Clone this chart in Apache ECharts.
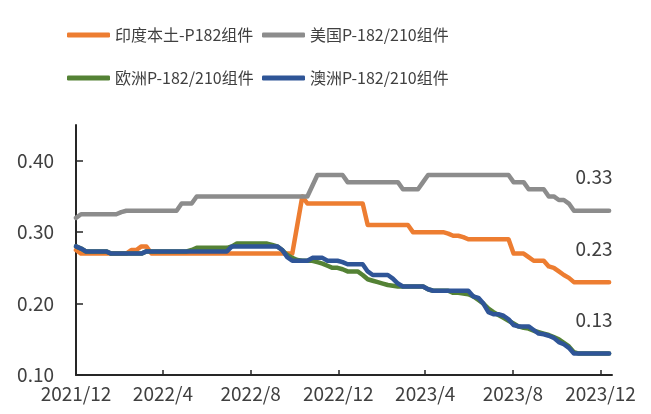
<!DOCTYPE html>
<html>
<head>
<meta charset="utf-8">
<script src="https://cdn.jsdelivr.net/npm/echarts@6/dist/echarts.min.js"></script>
<style>
  html, body { margin: 0; padding: 0; background: #fff; }
  #main { width: 651px; height: 414px; }
</style>
</head>
<body>
<div id="main"></div>
<script>
// weekly prices, USD/W, first week 2021/12/1
var startDate = Date.UTC(2021, 11, 1);
var names = ['印度本土-P182组件', '美国P-182/210组件', '欧洲P-182/210组件', '澳洲P-182/210组件'];
var colors = ['#ED7D31', '#8C8C8C', '#548235', '#2F5597'];
var tickDates = ['2021-12-01', '2022-04-01', '2022-08-01', '2022-12-01', '2023-04-01', '2023-08-01', '2023-12-01'];
var yTicks = [0.1, 0.2, 0.3, 0.4];

var india = [
  0.275,
  0.27, 0.27, 0.27, 0.27, 0.27, 0.27, 0.27, 0.27, 0.27, 0.27,
  0.275, 0.275, 0.28, 0.28,
  0.27, 0.27, 0.27, 0.27, 0.27, 0.27, 0.27, 0.27, 0.27, 0.27,
  0.27, 0.27, 0.27, 0.27, 0.27, 0.27, 0.27, 0.27, 0.27, 0.27,
  0.27, 0.27, 0.27, 0.27, 0.27, 0.27, 0.27, 0.27, 0.27,
  0.31, 0.35,
  0.34, 0.34, 0.34, 0.34, 0.34, 0.34, 0.34, 0.34, 0.34, 0.34, 0.34, 0.34,
  0.31, 0.31, 0.31, 0.31, 0.31, 0.31, 0.31, 0.31, 0.31,
  0.30, 0.30, 0.30, 0.30, 0.30, 0.30, 0.30,
  0.298, 0.295, 0.295, 0.293,
  0.29, 0.29, 0.29, 0.29, 0.29, 0.29, 0.29, 0.29, 0.29,
  0.27, 0.27, 0.27,
  0.265, 0.26, 0.26, 0.26, 0.252, 0.25, 0.245, 0.24, 0.236,
  0.23, 0.23, 0.23, 0.23, 0.23, 0.23, 0.23, 0.23
];
var usa = [
  0.32,
  0.325, 0.325, 0.325, 0.325, 0.325, 0.325, 0.325, 0.325,
  0.328,
  0.33, 0.33, 0.33, 0.33, 0.33, 0.33, 0.33, 0.33, 0.33, 0.33, 0.33,
  0.34, 0.34, 0.34,
  0.35, 0.35, 0.35, 0.35, 0.35, 0.35, 0.35, 0.35, 0.35, 0.35,
  0.35, 0.35, 0.35, 0.35, 0.35, 0.35, 0.35, 0.35, 0.35, 0.35,
  0.35, 0.35, 0.35,
  0.365,
  0.38, 0.38, 0.38, 0.38, 0.38, 0.38,
  0.37, 0.37, 0.37, 0.37, 0.37, 0.37, 0.37, 0.37, 0.37, 0.37, 0.37,
  0.36, 0.36, 0.36, 0.36,
  0.37,
  0.38, 0.38, 0.38, 0.38, 0.38, 0.38, 0.38, 0.38, 0.38, 0.38,
  0.38, 0.38, 0.38, 0.38, 0.38, 0.38, 0.38,
  0.37, 0.37, 0.37,
  0.36, 0.36, 0.36, 0.36,
  0.35, 0.35,
  0.345, 0.345,
  0.34,
  0.33, 0.33, 0.33, 0.33, 0.33, 0.33, 0.33, 0.33
];
var europe = [
  0.28, 0.277,
  0.273, 0.273, 0.273, 0.273, 0.273,
  0.27, 0.27, 0.27, 0.27, 0.27, 0.27, 0.27,
  0.273, 0.273, 0.273, 0.273, 0.273, 0.273, 0.273, 0.273, 0.273,
  0.275,
  0.278, 0.278, 0.278, 0.278, 0.278, 0.278, 0.278,
  0.28,
  0.284, 0.284, 0.284, 0.284, 0.284, 0.284, 0.284,
  0.282, 0.28, 0.275, 0.268, 0.264, 0.261,
  0.26, 0.26, 0.26,
  0.258, 0.256, 0.253, 0.25, 0.25, 0.248,
  0.245, 0.245, 0.245,
  0.24, 0.234, 0.232, 0.23, 0.228, 0.226, 0.225,
  0.224, 0.224, 0.224, 0.224, 0.224, 0.224,
  0.22,
  0.218, 0.218, 0.218, 0.218,
  0.215, 0.215, 0.214, 0.213, 0.21, 0.205, 0.2, 0.193, 0.188, 0.184,
  0.18, 0.176, 0.172, 0.168, 0.166, 0.165, 0.162, 0.16, 0.158, 0.156,
  0.153, 0.15, 0.145, 0.14, 0.132,
  0.13, 0.13, 0.13, 0.13, 0.13, 0.13, 0.13
];
var australia = [
  0.28, 0.277,
  0.273, 0.273, 0.273, 0.273, 0.273,
  0.27, 0.27, 0.27, 0.27, 0.27, 0.27, 0.27,
  0.273, 0.273, 0.273, 0.273, 0.273, 0.273, 0.273, 0.273, 0.273,
  0.273, 0.273, 0.273, 0.273, 0.273, 0.273, 0.273, 0.273,
  0.28, 0.28, 0.28, 0.28, 0.28, 0.28, 0.28, 0.28, 0.28, 0.28,
  0.275, 0.265,
  0.26, 0.26, 0.26, 0.26,
  0.264, 0.264, 0.264,
  0.26, 0.26, 0.26,
  0.258,
  0.255, 0.255, 0.255, 0.255,
  0.245,
  0.24, 0.24, 0.24, 0.24,
  0.235, 0.228,
  0.224, 0.224, 0.224, 0.224, 0.224,
  0.22,
  0.218, 0.218, 0.218, 0.218, 0.218, 0.218, 0.218, 0.218,
  0.21, 0.208, 0.2, 0.188, 0.185, 0.185, 0.183, 0.178, 0.17,
  0.168, 0.168, 0.168,
  0.163, 0.158, 0.157, 0.155, 0.152, 0.146, 0.143, 0.138,
  0.13, 0.13, 0.13, 0.13, 0.13, 0.13, 0.13, 0.13
];

var labelIndex = 103;

function pairs(values) {
  var out = [];
  for (var i = 0; i < values.length; i++) {
    out.push([startDate + i * 7 * 86400000, values[i]]);
  }
  return out;
}

function endMark(values) {
  var last = values[values.length - 1];
  return {
    symbol: 'circle',
    symbolSize: 0,
    silent: true,
    label: {
      show: true,
      position: 'top',
      distance: 24,
      color: '#404040',
      fontSize: 19,
      fontFamily: 'Noto Sans CJK SC',
      formatter: last.toFixed(2)
    },
    data: [{ coord: [startDate + labelIndex * 7 * 86400000, last] }]
  };
}

var chart = echarts.init(document.getElementById('main'));
var allValues = [india, usa, europe, australia];
var series = [];
for (var s = 0; s < names.length; s++) {
  var item = {
    name: names[s],
    type: 'line',
    data: pairs(allValues[s]),
    showSymbol: false,
    symbol: 'none',
    color: colors[s],
    lineStyle: { width: 4.5, color: colors[s], cap: 'round', join: 'round' },
    animation: false
  };
  if (s !== 2) item.markPoint = endMark(allValues[s]);
  series.push(item);
}

var legendPos = [[62, 22], [257, 22], [62, 65], [257, 65]];
var legends = [];
for (var l = 0; l < names.length; l++) {
  legends.push({
    data: [names[l]],
    left: legendPos[l][0],
    top: legendPos[l][1],
    icon: 'roundRect',
    itemWidth: 43,
    itemHeight: 5,
    textStyle: { fontSize: 16, color: '#404040', fontFamily: 'Noto Sans CJK SC' }
  });
}

var option = {
  backgroundColor: '#fff',
  legend: legends,
  grid: { left: 76, right: 39, top: 125, bottom: 39, containLabel: false },
  xAxis: {
    type: 'time',
    min: Date.UTC(2021, 11, 1),
    max: Date.UTC(2023, 11, 17),
    splitLine: { show: false },
    axisLine: { lineStyle: { color: '#262626', width: 2 } },
    axisTick: {
      inside: true,
      length: 5,
      lineStyle: { color: '#262626', width: 1.5 },
      customValues: tickDates
    },
    axisLabel: {
      customValues: tickDates,
      formatter: '{yyyy}/{M}',
      fontSize: 19,
      color: '#404040',
      margin: 9,
      fontFamily: 'Noto Sans CJK SC',
      hideOverlap: false
    }
  },
  yAxis: {
    type: 'value',
    min: 0.1,
    max: 0.45,
    interval: 0.1,
    splitLine: { show: false },
    axisLine: { show: true, lineStyle: { color: '#262626', width: 2 } },
    axisTick: {
      show: true,
      inside: true,
      length: 7,
      lineStyle: { color: '#262626', width: 1.5 },
      customValues: yTicks
    },
    axisLabel: {
      customValues: yTicks,
      formatter: function (v) { return v.toFixed(2); },
      fontSize: 19,
      color: '#404040',
      margin: 22,
      fontFamily: 'Noto Sans CJK SC'
    }
  },
  series: series
};
chart.setOption(option);
</script>
</body>
</html>
